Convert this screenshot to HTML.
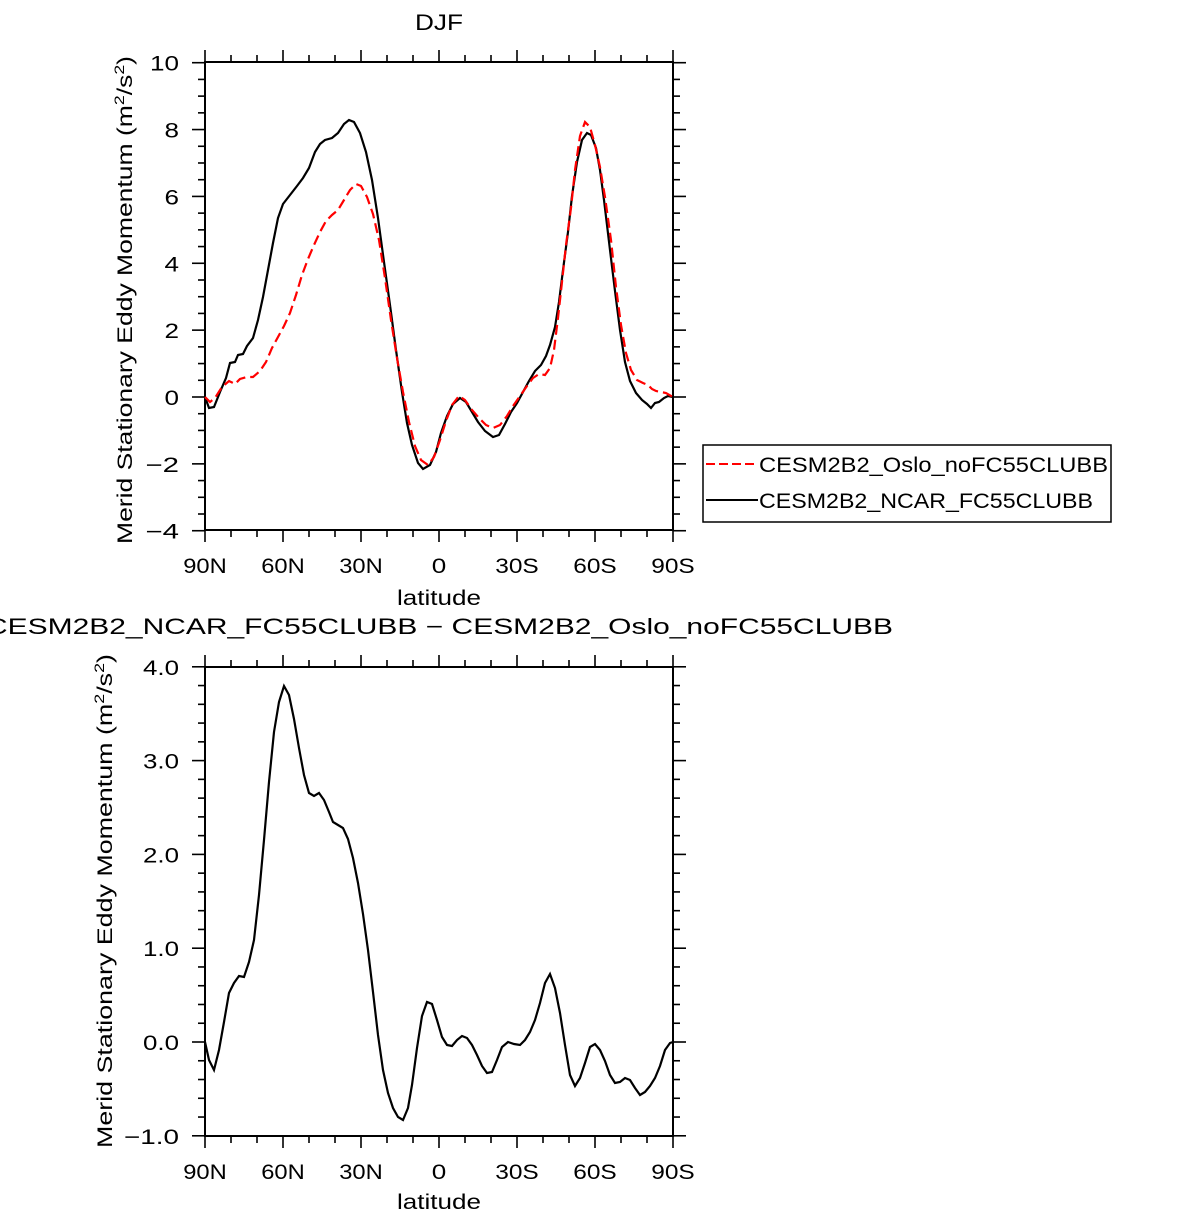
<!DOCTYPE html>
<html><head><meta charset="utf-8"><style>
html,body{margin:0;padding:0;background:#fff;}
svg{display:block;font-family:"Liberation Sans","DejaVu Sans",sans-serif;}
</style></head><body>
<svg id="s" width="1192" height="1221" viewBox="0 0 1192 1221" xmlns="http://www.w3.org/2000/svg">
<text x="415" y="30" font-size="22" textLength="48" lengthAdjust="spacingAndGlyphs">DJF</text>
<text x="-14" y="634" font-size="22" textLength="907" lengthAdjust="spacingAndGlyphs">CESM2B2_NCAR_FC55CLUBB − CESM2B2_Oslo_noFC55CLUBB</text>
<rect x="205" y="62" width="468" height="468" fill="none" stroke="#000" stroke-width="2"/>
<rect x="205" y="667" width="468" height="469" fill="none" stroke="#000" stroke-width="2"/>
<g id="ticks" stroke="#000" stroke-width="1.6"></g>
<g id="lab" font-size="21"></g>
<text transform="translate(132,544) rotate(-90)" font-size="21" textLength="488" lengthAdjust="spacingAndGlyphs">Merid Stationary Eddy Momentum  (m<tspan font-size="14" dy="-8">2</tspan><tspan dy="8">/s</tspan><tspan font-size="14" dy="-8">2</tspan><tspan dy="8">)</tspan></text>
<text transform="translate(112,1148) rotate(-90)" font-size="21" textLength="494" lengthAdjust="spacingAndGlyphs">Merid Stationary Eddy Momentum  (m<tspan font-size="14" dy="-8">2</tspan><tspan dy="8">/s</tspan><tspan font-size="14" dy="-8">2</tspan><tspan dy="8">)</tspan></text>
<text x="397" y="605" font-size="21" textLength="84" lengthAdjust="spacingAndGlyphs">latitude</text>
<text x="397" y="1209" font-size="21" textLength="84" lengthAdjust="spacingAndGlyphs">latitude</text>
<polyline fill="none" stroke="#000" stroke-width="2.2" points="205,397 209,408 214,407 220,392 226,378 230,363 235,362 238,355 243,354 247,346 253,338 258,320 263,297 268,270 273,243 278,218 283,204 290,195 297,186 303,178 309,168 315,152 320,144 325,140 332,138 338,133 344,124 349,120 354,122 360,133 366,152 372,180 378,218 384,262 390,305 396,350 402,392 407,423 412,445 418,463 423,469 430,465 436,452 441,433 447,416 453,404 460,398 466,402 472,412 478,422 485,431 493,437 499,435 505,424 511,412 517,403 523,392 529,381 535,371 541,365 546,356 550,345 555,327 559,302 563,270 568,232 572,196 577,162 582,140 587,133 591,135 596,148 600,170 604,200 610,250 615,291 620,330 625,362 630,381 636,393 642,400 647,404 651,408 655,403 659,402 664,398 668,396 673,397"/>
<polyline fill="none" stroke="#f00" stroke-width="2.2" stroke-dasharray="10,5" points="205,397 210,402 215,398 222,387 229,381 235,384 240,379 247,377 253,377 260,371 266,362 272,348 278,337 284,326 290,313 296,295 302,275 308,259 314,245 320,232 326,221 332,215 338,210 344,200 350,190 356,184 361,186 367,197 373,214 379,240 385,278 391,320 397,358 403,392 409,422 415,446 421,460 428,465 434,457 440,440 446,421 452,405 459,396 465,400 472,410 479,418 486,425 493,428 500,425 507,416 513,406 520,396 527,386 533,378 539,374 545,375 550,368 554,350 558,318 562,282 566,245 571,208 575,170 580,136 585,122 590,127 595,145 600,167 605,197 611,240 616,287 621,325 626,353 631,370 637,380 643,383 648,385 652,389 656,391 661,392 666,393 673,397"/>
<polyline fill="none" stroke="#000" stroke-width="2.2" points="205,1042 209,1060 214,1070 219,1050 224,1022 229,993 234,983 239,976 244,977 249,962 254,940 259,895 264,840 269,782 274,732 279,702 284,686 289,695 294,719 299,748 304,775 309,793 314,796 319,793 324,800 329,812 333,822 338,825 343,828 348,839 353,858 358,883 363,914 368,950 373,992 378,1035 383,1070 388,1093 393,1108 398,1117 403,1120 408,1108 412,1085 417,1048 422,1016 427,1002 432,1004 437,1020 442,1037 447,1045 452,1046 457,1040 462,1036 467,1038 472,1045 477,1055 482,1066 487,1073 492,1072 497,1060 502,1047 508,1042 514,1044 520,1045 525,1040 530,1032 535,1020 540,1003 545,983 550,974 555,988 560,1013 565,1045 570,1075 575,1086 580,1078 585,1063 590,1047 595,1044 600,1050 605,1061 610,1075 615,1083 620,1082 625,1078 630,1080 635,1088 640,1095 645,1092 650,1086 655,1078 660,1066 665,1050 670,1043 673,1042"/>
<rect x="703" y="445" width="408" height="77" fill="#fff" stroke="#000" stroke-width="1.5"/>
<line x1="706" y1="464" x2="758" y2="464" stroke="#f00" stroke-width="2" stroke-dasharray="9,4"/>
<line x1="706" y1="500" x2="758" y2="500" stroke="#000" stroke-width="2"/>
<text x="759" y="472" font-size="21" textLength="349" lengthAdjust="spacingAndGlyphs">CESM2B2_Oslo_noFC55CLUBB</text>
<text x="759" y="508" font-size="21" textLength="334" lengthAdjust="spacingAndGlyphs">CESM2B2_NCAR_FC55CLUBB</text>
</svg>
<script>
var t=document.getElementById('ticks'),l=document.getElementById('lab');
function ln(a,b,c,d){t.insertAdjacentHTML('beforeend','<line x1="'+a+'" y1="'+b+'" x2="'+c+'" y2="'+d+'"/>');}
function w(s){var n=0;for(var i=0;i<s.length;i++){var c=s[i];n+=(c=='.')?7:(c=='−')?19:14.5;}return n;}
function tx(x,y,s,an){var W=w(s),x0=an=='middle'?x-W/2:x-W;
 l.insertAdjacentHTML('beforeend','<text x="'+x0+'" y="'+y+'" textLength="'+W+'" lengthAdjust="spacingAndGlyphs">'+s+'</text>');}
var xl=['90N','60N','30N','0','30S','60S','90S'];
[[62,530],[667,1136]].forEach(function(p){
 for(var i=0;i<=18;i++){var x=205+i*26,m=i%3==0,L=m?12:7;
  ln(x,p[0],x,p[0]-L);ln(x,p[1],x,p[1]+L);
  if(m)tx(x,p[1]+43,xl[i/3],'middle');}
});
for(var v=-4;v<=10.001;v+=0.5){var y=397-v*33.43,m=Math.abs(v%2)<1e-6,L=m?13:7;
 ln(205,y,205-L,y);ln(673,y,673+L,y);
 if(m)tx(179,y+8,(v<0?'−'+(-v):''+v),'end');}
for(var k=0;k<=25;k++){var v=-1+k*0.2,y=1042-v*93.8,m=k%5==0,L=m?13:7;
 ln(205,y,205-L,y);ln(673,y,673+L,y);
 if(m)tx(179,y+8,(v<-0.01?'−'+(-v).toFixed(1):Math.abs(v).toFixed(1)),'end');}
</script>
</body></html>
